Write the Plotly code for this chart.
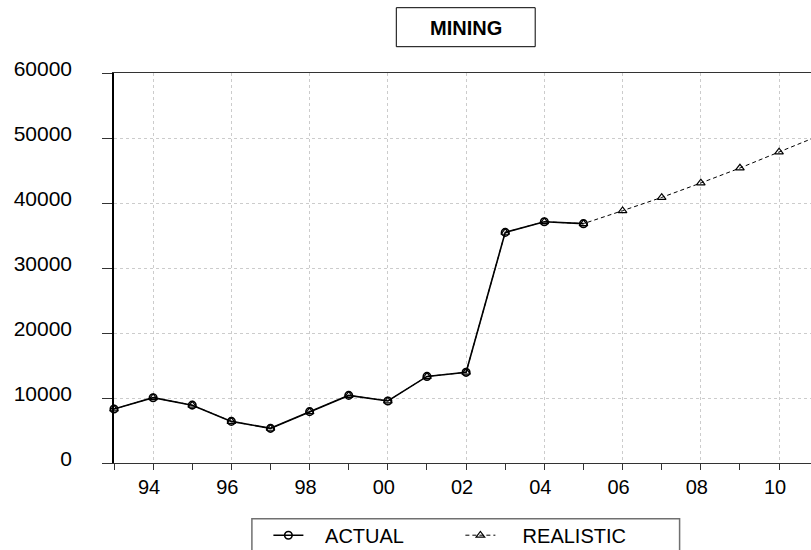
import plotly.graph_objects as go

years_actual = [1993, 1994, 1995, 1996, 1997, 1998, 1999, 2000, 2001, 2002, 2003, 2004, 2005]
actual = [8300, 10050, 8900, 6400, 5330, 7900, 10400, 9550, 13320, 13950, 35480, 37120, 36820]

years_proj = [2006, 2007, 2008, 2009, 2010, 2011]
realistic_proj = [38820, 40860, 43080, 45380, 47850, 50300]

years_realistic = years_actual + years_proj
realistic = actual + realistic_proj

tick_years = [1994, 1996, 1998, 2000, 2002, 2004, 2006, 2008, 2010]
tick_labels = ["94", "96", "98", "00", "02", "04", "06", "08", "10"]
y_ticks = [0, 10000, 20000, 30000, 40000, 50000, 60000]

FONT = "Liberation Sans, Arial, sans-serif"
W, H = 811, 550
L, T, B, R = 113.5, 73.3, 86.7, 0
pw, ph = W - L - R, H - T - B
NB = "\u00a0"

def px_x(p):
    return (p - L) / pw

def px_y(p):
    return (H - B - p) / ph

fig = go.Figure()
fig.add_trace(go.Scatter(
    x=years_realistic, y=realistic, name=NB * 4 + "REALISTIC", mode="lines+markers",
    line=dict(color="black", width=1, dash="4px,3px"),
    marker=dict(symbol="triangle-up-open", size=7.5, color="black", line=dict(width=1.2)),
    cliponaxis=False,
))
fig.add_trace(go.Scatter(
    x=years_actual, y=actual, name=NB * 3 + "ACTUAL", mode="lines+markers",
    line=dict(color="black", width=1.6),
    marker=dict(symbol="circle-open", size=7.5, color="black", line=dict(width=1.6)),
    cliponaxis=False,
))

fig.update_layout(
    width=W, height=H,
    margin=dict(l=L, r=R, t=T, b=B, pad=0, autoexpand=False),
    paper_bgcolor="white", plot_bgcolor="white",
    font=dict(family=FONT, size=20, color="black"),
    showlegend=True,
    legend=dict(
        orientation="h", x=px_x(268), xanchor="left", y=px_y(516), yanchor="top",
        borderwidth=0, bgcolor="rgba(0,0,0,0)",
        traceorder="reversed", font=dict(size=20), entrywidth=147,
    ),
    xaxis=dict(
        range=[1993, 1993 + pw / 39.15], automargin=False,
        tickmode="array", tickvals=tick_years, ticktext=tick_labels,
        ticks="outside", ticklen=6, tickcolor="#333333",
        showgrid=True, gridcolor="#cccccc", griddash="3px,3px", gridwidth=1,
        showline=True, linecolor="#333333", linewidth=1, mirror=True,
        minor=dict(dtick=1, tick0=1993, ticks="outside", ticklen=6, tickcolor="#333333", showgrid=False),
        zeroline=False, ticklabelstandoff=0, ticklabelshift=-4,
    ),
    yaxis=dict(
        range=[0, 60000], automargin=False,
        tickmode="array", tickvals=y_ticks, ticktext=[str(v) for v in y_ticks],
        ticks="outside", ticklen=10, tickcolor="#333333",
        showgrid=True, gridcolor="#cccccc", griddash="3px,3px", gridwidth=1,
        showline=True, linecolor="black", linewidth=1.5,
        zeroline=False, ticklabelstandoff=26, ticklabelshift=-4,
        tickfont=dict(size=21),
    ),
    shapes=[
        dict(type="rect", xref="paper", yref="paper",
             x0=px_x(396), x1=px_x(535), y0=px_y(47), y1=px_y(8),
             line=dict(color="black", width=1), fillcolor="white"),
        dict(type="rect", xref="paper", yref="paper",
             x0=px_x(251.5), x1=px_x(679.5), y0=px_y(575), y1=px_y(519),
             line=dict(color="#707070", width=1.5), fillcolor="white", layer="below"),
    ],
    annotations=[dict(
        text="<b>MINING</b>", xref="paper", yref="paper",
        x=px_x(465.5), y=px_y(28), xanchor="center", yanchor="middle",
        showarrow=False, font=dict(size=20, family=FONT),
    )],
)

fig.write_html(
    "out.html",
    config={"displayModeBar": False},
    post_script="document.body.style.margin='0';document.body.style.overflow='hidden';",
)
